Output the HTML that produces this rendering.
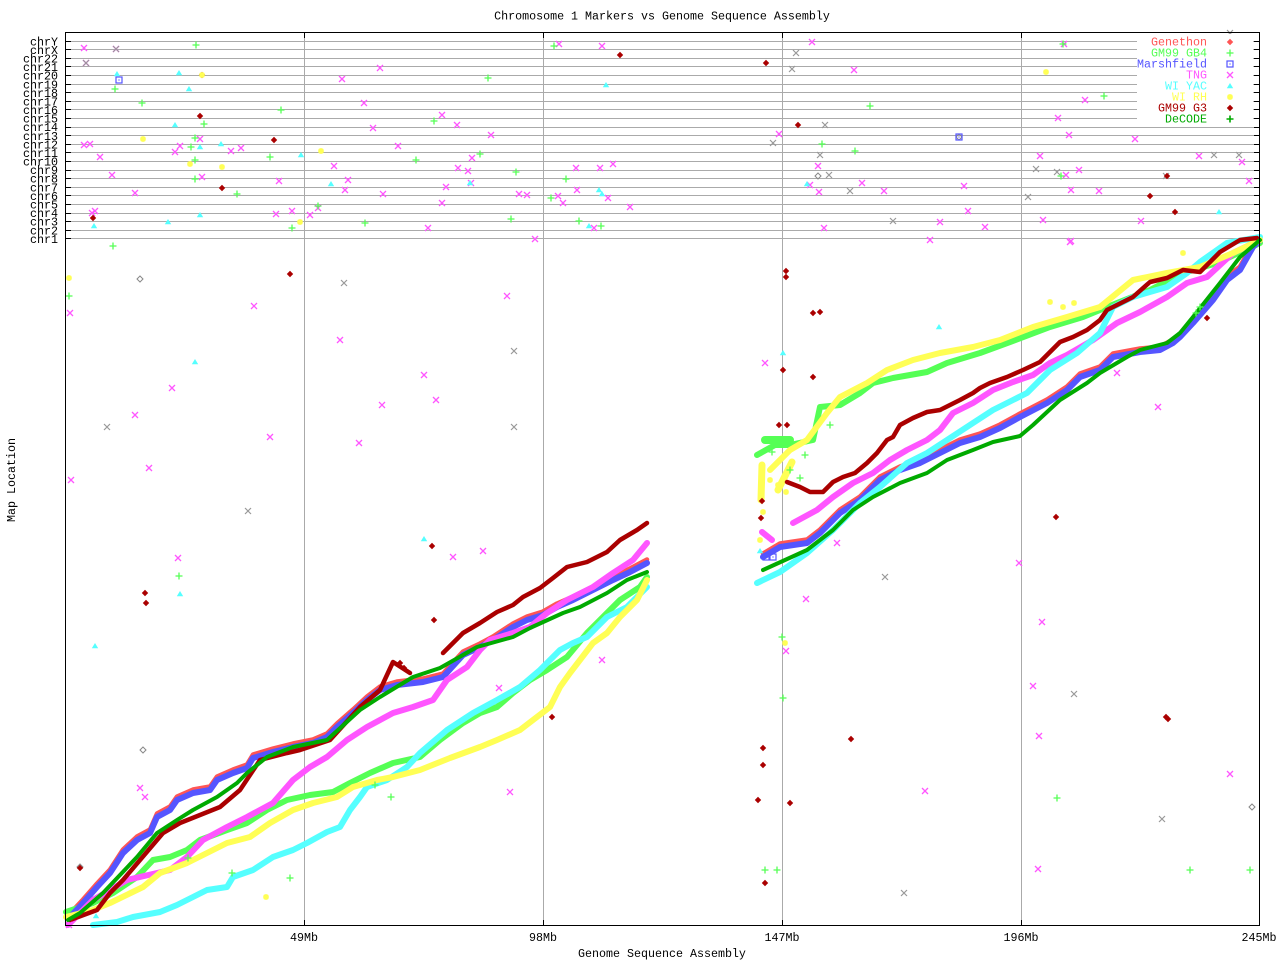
<!DOCTYPE html>
<html><head><meta charset="utf-8"><style>
html,body{margin:0;padding:0;background:#fff;}
svg{display:block;}
text{font-family:"Liberation Mono","DejaVu Sans Mono",monospace;font-size:11.67px;}
</style></head><body>
<svg width="1280" height="960" viewBox="0 0 1280 960" xmlns="http://www.w3.org/2000/svg">
<defs>
<path id="mx" d="M-3,-3L3,3M-3,3L3,-3" stroke="#ff55ff" stroke-width="1.3" fill="none"/>
<path id="gx" d="M-3,-3L3,3M-3,3L3,-3" stroke="#999" stroke-width="1.2" fill="none"/>
<path id="lp" d="M-3.5,0H3.5M0,-3.5V3.5" stroke="#55ff55" stroke-width="1.3" fill="none"/>
<path id="dp" d="M-3.5,0H3.5M0,-3.5V3.5" stroke="#00aa00" stroke-width="1.6" fill="none"/>
<polygon id="dr" points="0,-3.2 3.2,0 0,3.2 -3.2,0" fill="#aa0000"/>
<polygon id="rd" points="0,-3.2 3.2,0 0,3.2 -3.2,0" fill="#ff5555"/>
<polygon id="gd" points="0,-3 3,0 0,3 -3,0" fill="none" stroke="#888" stroke-width="1"/>
<polygon id="cy" points="0,-3 3.2,2.2 -3.2,2.2" fill="#55ffff"/>
<path id="ye" d="M-3,0H3M0,-3V3M-2.2,-2.2L2.2,2.2M-2.2,2.2L2.2,-2.2" stroke="#ffff55" stroke-width="1.6" fill="none"/>
<g id="bs"><rect x="-3" y="-3" width="6" height="6" fill="none" stroke="#5555ff" stroke-width="1.2"/><rect x="-0.6" y="-0.6" width="1.2" height="1.2" fill="#5555ff"/></g>
</defs>
<rect width="1280" height="960" fill="#fff"/>

<g stroke="#aaa" stroke-width="1">
<line x1="304.5" y1="32" x2="304.5" y2="926"/>
<line x1="543.5" y1="32" x2="543.5" y2="926"/>
<line x1="782.5" y1="32" x2="782.5" y2="926"/>
<line x1="1021.5" y1="32" x2="1021.5" y2="926"/>
</g>
<g stroke="#aaa" stroke-width="1">
<line x1="71" x2="1254" y1="41.5" y2="41.5"/><line x1="71" x2="1254" y1="49.5" y2="49.5"/>
<line x1="71" x2="1254" y1="58.5" y2="58.5"/><line x1="71" x2="1254" y1="66.5" y2="66.5"/>
<line x1="71" x2="1254" y1="75.5" y2="75.5"/><line x1="71" x2="1254" y1="84.5" y2="84.5"/>
<line x1="71" x2="1254" y1="92.5" y2="92.5"/><line x1="71" x2="1254" y1="101.5" y2="101.5"/>
<line x1="71" x2="1254" y1="109.5" y2="109.5"/><line x1="71" x2="1254" y1="118.5" y2="118.5"/>
<line x1="71" x2="1254" y1="127.5" y2="127.5"/><line x1="71" x2="1254" y1="135.5" y2="135.5"/>
<line x1="71" x2="1254" y1="144.5" y2="144.5"/><line x1="71" x2="1254" y1="152.5" y2="152.5"/>
<line x1="71" x2="1254" y1="161.5" y2="161.5"/><line x1="71" x2="1254" y1="170.5" y2="170.5"/>
<line x1="71" x2="1254" y1="178.5" y2="178.5"/><line x1="71" x2="1254" y1="187.5" y2="187.5"/>
<line x1="71" x2="1254" y1="195.5" y2="195.5"/><line x1="71" x2="1254" y1="204.5" y2="204.5"/>
<line x1="71" x2="1254" y1="213.5" y2="213.5"/><line x1="71" x2="1254" y1="221.5" y2="221.5"/>
<line x1="71" x2="1254" y1="230.5" y2="230.5"/><line x1="71" x2="1254" y1="238.5" y2="238.5"/>
</g>
<g stroke="#000" stroke-width="1">
<path d="M65,41.5h6M65,49.5h6M65,58.5h6M65,66.5h6M65,75.5h6M65,84.5h6M65,92.5h6M65,101.5h6M65,109.5h6M65,118.5h6M65,127.5h6M65,135.5h6M65,144.5h6M65,152.5h6M65,161.5h6M65,170.5h6M65,178.5h6M65,187.5h6M65,195.5h6M65,204.5h6M65,213.5h6M65,221.5h6M65,230.5h6M65,238.5h6"/>
<path d="M1254,41.5h6M1254,49.5h6M1254,58.5h6M1254,66.5h6M1254,75.5h6M1254,84.5h6M1254,92.5h6M1254,101.5h6M1254,109.5h6M1254,118.5h6M1254,127.5h6M1254,135.5h6M1254,144.5h6M1254,152.5h6M1254,161.5h6M1254,170.5h6M1254,178.5h6M1254,187.5h6M1254,195.5h6M1254,204.5h6M1254,213.5h6M1254,221.5h6M1254,230.5h6M1254,238.5h6"/>
<path d="M304.5,32v6M543.5,32v6M782.5,32v6M1021.5,32v6M304.5,920v6M543.5,920v6M782.5,920v6M1021.5,920v6"/>
</g>

<g fill="none" stroke-linejoin="round" stroke-linecap="round">
<g transform="translate(0,-3.5)" stroke="#ff5555" stroke-width="4.5">
<path d="M70,917 L83,903 L97,887 L110,873 L123,853 L137,840 L150,833 L157,817 L170,810 L177,800 L193,793 L210,790 L217,780 L233,773 L247,768 L253,758 L273,752 L293,747 L313,743 L327,737 L337,727 L353,713 L367,700 L380,690 L397,685 L423,682 L443,677 L463,655 L480,647 L493,640 L513,627 L527,620 L543,615 L557,607 L573,600 L593,590 L613,580 L630,572 L647,563"/>
<path d="M763,557 L780,547 L807,543 L820,533 L840,513 L860,500 L880,480 L900,470 L920,463 L940,453 L960,443 L980,437 L1000,428 L1020,417 L1047,403 L1067,390 L1080,377 L1100,370 L1113,357 L1140,352 L1160,350 L1173,343 L1180,337 L1193,323 L1213,300 L1227,280 L1240,270 L1253,247 L1260,240"/>
</g>
<g stroke="#55ff55" stroke-width="6">
<path d="M66,912 L93,903 L113,893 L137,877 L153,860 L170,857 L187,850 L200,840 L227,830 L247,823 L267,810 L287,800 L310,795 L333,792 L350,783 L370,773 L393,763 L420,757 L440,740 L463,723 L480,713 L497,707 L513,693 L530,680 L547,670 L567,657 L587,633 L607,613 L620,600 L640,587 L647,577"/>
<path d="M757,455 L775,445 L790,445 L813,440 L820,407 L840,405 L860,393 L873,383 L893,378 L927,372 L947,363 L980,353 L1010,342 L1050,327 L1083,317 L1117,303 L1150,290 L1183,273 L1217,263 L1260,243"/>
<path d="M765,440 L790,440" stroke-width="8"/>
</g>
<g stroke="#5555ff" stroke-width="6">
<path d="M70,917 L83,903 L97,887 L110,873 L123,853 L137,840 L150,833 L157,817 L170,810 L177,800 L193,793 L210,790 L217,780 L233,773 L247,768 L253,758 L273,752 L293,747 L313,743 L327,737 L337,727 L353,713 L367,700 L380,690 L397,685 L423,682 L443,677 L463,655 L480,647 L493,640 L513,627 L527,620 L543,615 L557,607 L573,600 L593,590 L613,580 L630,572 L647,563"/>
<path d="M763,557 L780,547 L807,543 L820,533 L840,513 L860,500 L880,480 L900,470 L920,463 L940,453 L960,443 L980,437 L1000,428 L1020,417 L1047,403 L1067,390 L1080,377 L1100,370 L1113,357 L1140,352 L1160,350 L1173,343 L1180,337 L1193,323 L1213,300 L1227,280 L1240,270 L1253,247 L1260,240"/>
</g>
<g stroke="#ff55ff" stroke-width="6">
<path d="M68,925 L93,900 L127,880 L170,870 L187,857 L203,840 L227,827 L247,817 L273,803 L293,780 L310,767 L327,757 L347,740 L367,727 L393,713 L413,707 L433,700 L447,680 L467,667 L480,650 L490,640 L513,633 L530,627 L547,613 L567,600 L593,587 L613,573 L633,560 L647,543"/>
<path d="M793,523 L817,510 L833,497 L853,483 L873,473 L890,460 L907,450 L927,440 L940,430 L953,413 L973,403 L993,390 L1013,382 L1033,375 L1050,363 L1067,355 L1093,340 L1117,323 L1140,312 L1167,297 L1187,283 L1207,277 L1233,253 L1260,240"/>
<path d="M762,532 L772,540"/>
</g>
<g stroke="#55ffff" stroke-width="6">
<path d="M93,925 L117,922 L133,917 L160,912 L177,905 L193,897 L207,890 L227,887 L233,877 L253,870 L273,857 L293,850 L307,843 L327,832 L340,827 L350,810 L360,797 L367,787 L387,780 L407,767 L420,753 L427,747 L447,730 L473,713 L497,700 L520,687 L540,670 L560,650 L573,643 L587,637 L607,617 L627,607 L647,587"/>
<path d="M757,583 L780,572 L807,553 L833,530 L860,503 L880,487 L907,463 L927,453 L947,440 L973,423 L993,410 L1013,400 L1027,393 L1050,370 L1077,353 L1100,333 L1113,307 L1133,297 L1167,287 L1187,273 L1200,262 L1227,243 L1260,237"/>
</g>
<g stroke="#ffff55" stroke-width="6">
<path d="M66,917 L93,910 L110,903 L143,887 L160,873 L187,863 L207,853 L227,843 L250,837 L270,823 L293,810 L313,803 L337,797 L353,787 L377,780 L393,777 L420,770 L450,758 L480,747 L497,740 L520,730 L533,720 L550,707 L560,687 L570,673 L593,643 L607,633 L620,617 L637,600 L647,580"/>
<path d="M770,470 L790,450 L807,440 L827,413 L840,397 L867,383 L887,370 L913,360 L940,353 L973,347 L1000,340 L1033,327 L1067,317 L1100,307 L1133,280 L1167,273 L1200,267 L1233,253 L1260,240"/>
<path d="M761,500 L762,465 M778,490 L792,462" stroke-width="7"/>
</g>
<g stroke="#aa0000" stroke-width="4.5">
<path d="M70,920 L97,910 L110,893 L123,880 L163,833 L180,823 L220,807 L240,790 L260,760 L287,753 L300,750 L330,740 L360,707 L380,690 L393,662 L410,673 M443,653 L463,633 L480,623 L497,612 L513,605 L523,597 L540,588 L553,578 L567,567 L587,562 L607,552 L620,540 L637,530 L647,523"/>
<path d="M787,482 L800,487 L810,492 L823,492 L833,482 L843,477 L855,473 L867,463 L877,453 L887,440 L893,437 L900,425 L913,418 L927,412 L940,410 L960,400 L973,393 L980,388 L990,383 L1007,377 L1023,370 L1040,362 L1060,342 L1073,337 L1087,330 L1100,320 L1107,310 L1133,297 L1150,282 L1167,278 L1183,270 L1200,272 L1220,252 L1240,240 L1257,238"/>
</g>
<g stroke="#00aa00" stroke-width="4">
<path d="M68,920 L80,913 L103,893 L137,857 L157,833 L177,820 L193,810 L217,797 L237,783 L247,773 L267,757 L293,747 L327,740 L360,710 L380,697 L413,677 L440,668 L463,655 L477,647 L513,637 L530,628 L563,613 L580,607 L607,593 L627,580 L647,572"/>
<path d="M763,570 L807,550 L833,530 L853,510 L873,497 L900,483 L927,473 L947,460 L973,450 L993,442 L1020,436 L1033,425 L1060,400 L1087,383 L1100,373 L1127,357 L1140,350 L1167,343 L1180,333 L1193,317 L1220,283 L1240,257 L1260,240"/>
</g>
</g>

<g>
<use href="#mx" x="84" y="48"/><use href="#mx" x="116" y="49"/><use href="#mx" x="86" y="63"/><use href="#mx" x="380" y="68"/><use href="#mx" x="342" y="79"/><use href="#mx" x="364" y="103"/><use href="#mx" x="442" y="115"/><use href="#mx" x="457" y="125"/><use href="#mx" x="373" y="128"/><use href="#mx" x="491" y="135"/><use href="#mx" x="200" y="139"/><use href="#mx" x="84" y="145"/><use href="#mx" x="90" y="144"/><use href="#mx" x="180" y="146"/><use href="#mx" x="175" y="152"/><use href="#mx" x="231" y="151"/><use href="#mx" x="241" y="148"/><use href="#mx" x="398" y="146"/><use href="#mx" x="100" y="157"/><use href="#mx" x="472" y="158"/><use href="#mx" x="334" y="166"/><use href="#mx" x="458" y="168"/><use href="#mx" x="468" y="171"/><use href="#mx" x="112" y="175"/><use href="#mx" x="202" y="177"/><use href="#mx" x="279" y="181"/><use href="#mx" x="348" y="180"/><use href="#mx" x="446" y="187"/><use href="#mx" x="471" y="183"/><use href="#mx" x="135" y="193"/><use href="#mx" x="345" y="190"/><use href="#mx" x="383" y="194"/><use href="#mx" x="519" y="194"/><use href="#mx" x="527" y="195"/><use href="#mx" x="442" y="203"/><use href="#mx" x="95" y="211"/><use href="#mx" x="92" y="213"/><use href="#mx" x="276" y="214"/><use href="#mx" x="292" y="211"/><use href="#mx" x="310" y="215"/><use href="#mx" x="318" y="208"/><use href="#mx" x="428" y="228"/><use href="#mx" x="535" y="239"/><use href="#mx" x="559" y="44"/><use href="#mx" x="602" y="46"/><use href="#mx" x="576" y="168"/><use href="#mx" x="600" y="168"/><use href="#mx" x="613" y="164"/><use href="#mx" x="577" y="190"/><use href="#mx" x="558" y="196"/><use href="#mx" x="563" y="203"/><use href="#mx" x="608" y="198"/><use href="#mx" x="630" y="207"/><use href="#mx" x="594" y="228"/><use href="#mx" x="812" y="42"/><use href="#mx" x="854" y="70"/><use href="#mx" x="779" y="134"/><use href="#mx" x="818" y="166"/><use href="#mx" x="810" y="185"/><use href="#mx" x="819" y="192"/><use href="#mx" x="862" y="183"/><use href="#mx" x="884" y="191"/><use href="#mx" x="964" y="186"/><use href="#mx" x="940" y="222"/><use href="#mx" x="968" y="211"/><use href="#mx" x="985" y="227"/><use href="#mx" x="930" y="240"/><use href="#mx" x="824" y="228"/><use href="#mx" x="1064" y="44"/><use href="#mx" x="1085" y="100"/><use href="#mx" x="1058" y="118"/><use href="#mx" x="1069" y="135"/><use href="#mx" x="1040" y="156"/><use href="#mx" x="1066" y="175"/><use href="#mx" x="1079" y="170"/><use href="#mx" x="1071" y="190"/><use href="#mx" x="1099" y="191"/><use href="#mx" x="1043" y="220"/><use href="#mx" x="1141" y="221"/><use href="#mx" x="1199" y="156"/><use href="#mx" x="1242" y="162"/><use href="#mx" x="1249" y="181"/><use href="#mx" x="1135" y="139"/><use href="#mx" x="1071" y="241"/>
<use href="#mx" x="70" y="313"/><use href="#mx" x="71" y="480"/><use href="#mx" x="135" y="415"/><use href="#mx" x="149" y="468"/><use href="#mx" x="172" y="388"/><use href="#mx" x="178" y="558"/><use href="#mx" x="254" y="306"/><use href="#mx" x="270" y="437"/><use href="#mx" x="340" y="340"/><use href="#mx" x="359" y="443"/><use href="#mx" x="382" y="405"/><use href="#mx" x="424" y="375"/><use href="#mx" x="436" y="400"/><use href="#mx" x="453" y="557"/><use href="#mx" x="483" y="551"/><use href="#mx" x="507" y="296"/><use href="#mx" x="510" y="792"/><use href="#mx" x="499" y="688"/><use href="#mx" x="602" y="660"/><use href="#mx" x="1042" y="622"/><use href="#mx" x="1158" y="407"/><use href="#mx" x="1019" y="563"/><use href="#mx" x="1033" y="686"/><use href="#mx" x="1039" y="736"/><use href="#mx" x="1038" y="869"/><use href="#mx" x="1230" y="774"/><use href="#mx" x="925" y="791"/><use href="#mx" x="786" y="651"/><use href="#mx" x="765" y="363"/><use href="#mx" x="140" y="788"/><use href="#mx" x="145" y="797"/><use href="#mx" x="1070" y="242"/><use href="#mx" x="1117" y="373"/><use href="#mx" x="837" y="543"/><use href="#mx" x="806" y="599"/><use href="#mx" x="69" y="925"/>

<use href="#gx" x="796" y="53"/><use href="#gx" x="792" y="69"/><use href="#gx" x="825" y="125"/><use href="#gx" x="773" y="143"/><use href="#gx" x="820" y="155"/><use href="#gx" x="829" y="175"/><use href="#gx" x="850" y="191"/><use href="#gx" x="893" y="221"/><use href="#gx" x="1036" y="169"/><use href="#gx" x="1057" y="172"/><use href="#gx" x="1028" y="197"/><use href="#gx" x="1214" y="155"/><use href="#gx" x="1239" y="155"/><use href="#gx" x="1166" y="176"/><use href="#gx" x="1230" y="33"/><use href="#gx" x="116" y="49"/><use href="#gx" x="86" y="63"/>
<use href="#gx" x="344" y="283"/><use href="#gx" x="107" y="427"/><use href="#gx" x="248" y="511"/><use href="#gx" x="514" y="351"/><use href="#gx" x="514" y="427"/><use href="#gx" x="1074" y="694"/><use href="#gx" x="1162" y="819"/><use href="#gx" x="885" y="577"/><use href="#gx" x="904" y="893"/>
<use href="#gd" x="1252" y="807"/><use href="#gd" x="143" y="750"/><use href="#gd" x="818" y="176"/><use href="#gd" x="959" y="137"/><use href="#gd" x="80" y="867"/><use href="#gd" x="140" y="279"/>

<use href="#dr" x="202" y="75"/><use href="#dr" x="200" y="116"/><use href="#dr" x="274" y="140"/><use href="#dr" x="222" y="188"/><use href="#dr" x="93" y="218"/><use href="#dr" x="620" y="55"/><use href="#dr" x="766" y="63"/><use href="#dr" x="798" y="125"/><use href="#dr" x="1150" y="196"/><use href="#dr" x="1175" y="212"/><use href="#dr" x="1167" y="176"/>
<use href="#dr" x="290" y="274"/><use href="#dr" x="145" y="593"/><use href="#dr" x="146" y="603"/><use href="#dr" x="763" y="748"/><use href="#dr" x="758" y="800"/><use href="#dr" x="790" y="803"/><use href="#dr" x="813" y="313"/><use href="#dr" x="820" y="312"/><use href="#dr" x="765" y="883"/><use href="#dr" x="851" y="739"/><use href="#dr" x="1056" y="517"/><use href="#dr" x="1166" y="717"/><use href="#dr" x="1168" y="719"/><use href="#dr" x="786" y="271"/><use href="#dr" x="786" y="277"/><use href="#dr" x="783" y="370"/><use href="#dr" x="813" y="377"/><use href="#dr" x="779" y="425"/><use href="#dr" x="787" y="425"/><use href="#dr" x="762" y="501"/><use href="#dr" x="761" y="518"/><use href="#dr" x="432" y="546"/><use href="#dr" x="434" y="620"/><use href="#dr" x="552" y="717"/><use href="#dr" x="1207" y="318"/><use href="#dr" x="763" y="765"/><use href="#dr" x="80" y="868"/><use href="#dr" x="400" y="663"/><use href="#dr" x="404" y="668"/>

<use href="#lp" x="196" y="45"/><use href="#lp" x="115" y="89"/><use href="#lp" x="142" y="103"/><use href="#lp" x="281" y="110"/><use href="#lp" x="204" y="124"/><use href="#lp" x="195" y="138"/><use href="#lp" x="191" y="147"/><use href="#lp" x="195" y="160"/><use href="#lp" x="195" y="179"/><use href="#lp" x="237" y="194"/><use href="#lp" x="270" y="157"/><use href="#lp" x="434" y="121"/><use href="#lp" x="488" y="78"/><use href="#lp" x="416" y="160"/><use href="#lp" x="480" y="154"/><use href="#lp" x="516" y="172"/><use href="#lp" x="511" y="219"/><use href="#lp" x="365" y="223"/><use href="#lp" x="292" y="228"/><use href="#lp" x="318" y="206"/><use href="#lp" x="554" y="46"/><use href="#lp" x="566" y="179"/><use href="#lp" x="551" y="198"/><use href="#lp" x="579" y="221"/><use href="#lp" x="601" y="226"/><use href="#lp" x="870" y="106"/><use href="#lp" x="822" y="144"/><use href="#lp" x="855" y="151"/><use href="#lp" x="1063" y="44"/><use href="#lp" x="1104" y="96"/><use href="#lp" x="1061" y="176"/><use href="#lp" x="1150" y="93"/><use href="#lp" x="113" y="246"/>
<use href="#lp" x="69" y="296"/><use href="#lp" x="179" y="576"/><use href="#lp" x="188" y="858"/><use href="#lp" x="290" y="878"/><use href="#lp" x="765" y="870"/><use href="#lp" x="777" y="870"/><use href="#lp" x="1057" y="798"/><use href="#lp" x="1190" y="870"/><use href="#lp" x="1250" y="870"/><use href="#lp" x="782" y="637"/><use href="#lp" x="783" y="698"/><use href="#lp" x="1200" y="307"/><use href="#lp" x="1196" y="313"/><use href="#lp" x="391" y="797"/><use href="#lp" x="375" y="785"/><use href="#lp" x="232" y="873"/><use href="#lp" x="790" y="470"/><use href="#lp" x="800" y="478"/><use href="#lp" x="830" y="425"/><use href="#lp" x="772" y="452"/><use href="#lp" x="805" y="455"/>

<use href="#cy" x="117" y="74"/><use href="#cy" x="179" y="73"/><use href="#cy" x="189" y="89"/><use href="#cy" x="175" y="125"/><use href="#cy" x="200" y="147"/><use href="#cy" x="221" y="144"/><use href="#cy" x="301" y="155"/><use href="#cy" x="331" y="184"/><use href="#cy" x="470" y="183"/><use href="#cy" x="200" y="215"/><use href="#cy" x="168" y="222"/><use href="#cy" x="94" y="226"/><use href="#cy" x="606" y="85"/><use href="#cy" x="599" y="190"/><use href="#cy" x="602" y="194"/><use href="#cy" x="589" y="226"/><use href="#cy" x="807" y="184"/><use href="#cy" x="1219" y="212"/>
<use href="#cy" x="195" y="362"/><use href="#cy" x="180" y="594"/><use href="#cy" x="95" y="646"/><use href="#cy" x="783" y="353"/><use href="#cy" x="760" y="551"/><use href="#cy" x="939" y="327"/><use href="#cy" x="96" y="916"/><use href="#cy" x="424" y="539"/>

<use href="#ye" x="143" y="139"/><use href="#ye" x="190" y="164"/><use href="#ye" x="222" y="167"/><use href="#ye" x="321" y="151"/><use href="#ye" x="300" y="222"/><use href="#ye" x="202" y="75"/><use href="#ye" x="1046" y="72"/><use href="#ye" x="69" y="278"/><use href="#ye" x="785" y="643"/><use href="#ye" x="1183" y="253"/><use href="#ye" x="1050" y="302"/><use href="#ye" x="1074" y="303"/><use href="#ye" x="1063" y="307"/><use href="#ye" x="266" y="897"/><use href="#ye" x="760" y="540"/><use href="#ye" x="763" y="512"/><use href="#ye" x="770" y="480"/><use href="#ye" x="778" y="485"/><use href="#ye" x="786" y="492"/>

<use href="#bs" x="119" y="80"/><use href="#bs" x="959" y="137"/><use href="#bs" x="766" y="557"/><use href="#bs" x="773" y="557"/>
</g>

<rect x="65.5" y="32.5" width="1194" height="893" fill="none" stroke="#000" stroke-width="1"/>

<rect x="1137" y="34" width="116" height="92" fill="#fff"/>
<g text-anchor="end">
<text x="1207" y="45.7" fill="#ff5555">Genethon</text>
<text x="1207" y="56.7" fill="#55ff55">GM99 GB4</text>
<text x="1207" y="67.7" fill="#5555ff">Marshfield</text>
<text x="1207" y="78.7" fill="#ff55ff">TNG</text>
<text x="1207" y="89.7" fill="#55ffff">WI YAC</text>
<text x="1207" y="100.7" fill="#ffff55">WI RH</text>
<text x="1207" y="111.7" fill="#aa0000">GM99 G3</text>
<text x="1207" y="122.7" fill="#00aa00">DeCODE</text>
</g>
<g>
<use href="#rd" x="1230" y="42"/>
<use href="#lp" x="1230" y="53"/>
<use href="#bs" x="1230" y="64"/>
<use href="#mx" x="1230" y="75"/>
<use href="#cy" x="1230" y="86"/>
<use href="#ye" x="1230" y="97"/>
<use href="#dr" x="1230" y="108"/>
<use href="#dp" x="1230" y="119"/>
</g>

<g text-anchor="end" fill="#000">
<text x="58" y="45.5">chrY</text><text x="58" y="54">chrX</text><text x="58" y="62.5">chr22</text><text x="58" y="71">chr21</text>
<text x="58" y="79.7">chr20</text><text x="58" y="88.3">chr19</text><text x="58" y="96.8">chr18</text><text x="58" y="105.4">chr17</text>
<text x="58" y="114">chr16</text><text x="58" y="122.6">chr15</text><text x="58" y="131.2">chr14</text><text x="58" y="139.8">chr13</text>
<text x="58" y="148.4">chr12</text><text x="58" y="157">chr11</text><text x="58" y="165.6">chr10</text><text x="58" y="174.2">chr9</text>
<text x="58" y="182.7">chr8</text><text x="58" y="191.3">chr7</text><text x="58" y="199.9">chr6</text><text x="58" y="208.5">chr5</text>
<text x="58" y="217.1">chr4</text><text x="58" y="225.7">chr3</text><text x="58" y="234.3">chr2</text><text x="58" y="242.9">chr1</text>
</g>

<g text-anchor="middle" fill="#000">
<text x="662" y="19.5">Chromosome 1 Markers vs Genome Sequence Assembly</text>
<text x="304" y="941">49Mb</text>
<text x="543" y="941">98Mb</text>
<text x="782" y="941">147Mb</text>
<text x="1021" y="941">196Mb</text>
<text x="1259" y="941">245Mb</text>
<text x="662" y="957">Genome Sequence Assembly</text>
<text x="0" y="0" transform="translate(15,480) rotate(-90)">Map Location</text>
</g>
</svg>
</body></html>
